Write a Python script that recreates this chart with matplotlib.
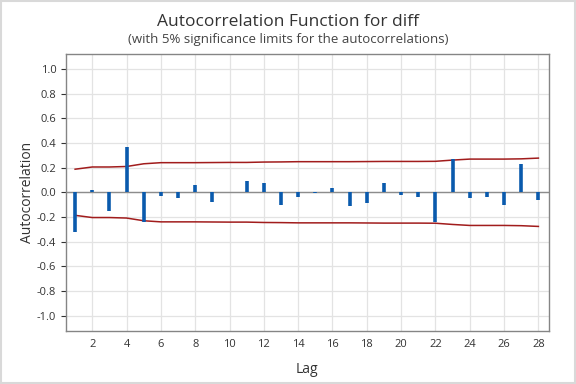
import numpy as np
import matplotlib.pyplot as plt
from matplotlib.patches import Rectangle

plt.rcParams['font.family'] = ['Open Sans', 'DejaVu Sans']

lags = list(range(1, 29))
acf = [-0.32, 0.02, -0.15, 0.37, -0.24, -0.03, -0.045, 0.06, -0.08, 0.003,
       0.09, 0.076, -0.10, -0.035, -0.005, 0.035, -0.115, -0.09, 0.076, -0.02,
       -0.035, -0.24, 0.27, -0.045, -0.04, -0.10, 0.23, -0.065]
limit = [0.187, 0.205, 0.205, 0.209, 0.231, 0.240, 0.240, 0.240, 0.241, 0.242,
         0.242, 0.245, 0.246, 0.248, 0.248, 0.248, 0.248, 0.249, 0.250, 0.250,
         0.250, 0.251, 0.261, 0.269, 0.269, 0.269, 0.271, 0.277]
yticks = [1.0, 0.8, 0.6, 0.4, 0.2, 0.0, -0.2, -0.4, -0.6, -0.8, -1.0]
xticks = list(range(2, 29, 2))

fig = plt.figure(figsize=(5.76, 3.84), dpi=100)
ax = fig.add_axes([0.1146, 0.138, 0.838, 0.721])

ax.grid(True, color='#e3e3e3', linewidth=0.9)
ax.set_axisbelow(True)
ax.axhline(0, color='#8c8c8c', linewidth=1, zorder=1)

ax.vlines(lags, 0, acf, color='#0a5aad', linewidth=2.6, zorder=3)
lim = np.array(limit)
ax.plot(lags, lim, color='#a11c1c', linewidth=1.1, zorder=2)
ax.plot(lags, -lim, color='#a11c1c', linewidth=1.1, zorder=2)

ax.set_xlim(0.47, 28.6)
ax.set_ylim(-1.125, 1.12)
ax.set_xticks(xticks)
ax.set_yticks(yticks)
ax.set_yticklabels(['%.1f' % v for v in yticks])
ax.tick_params(labelsize=8, colors='#333333', length=3.5, width=0.8)
ax.tick_params(axis='x', length=0, pad=6)
for s in ax.spines.values():
    s.set_color('#858585')
    s.set_linewidth(1)

ax.set_xlabel('Lag', fontsize=10, color='#333333')
ax.set_ylabel('Autocorrelation', fontsize=10, color='#333333')
ax.xaxis.set_label_coords(0.5, -0.112)
ax.yaxis.set_label_coords(-0.064, 0.5)

fig.text(0.5, 0.943, 'Autocorrelation Function for diff', ha='center', va='center',
         fontsize=12.5, color='#333333')
fig.text(0.5, 0.897, '(with 5% significance limits for the autocorrelations)', ha='center',
         va='center', fontsize=9.5, color='#444444')

fig.patches.append(Rectangle((0.002, 0.003), 0.996, 0.994, transform=fig.transFigure,
                             fill=False, edgecolor='#d9d9d9', linewidth=1.5))

fig.savefig('out.png', dpi=100)
